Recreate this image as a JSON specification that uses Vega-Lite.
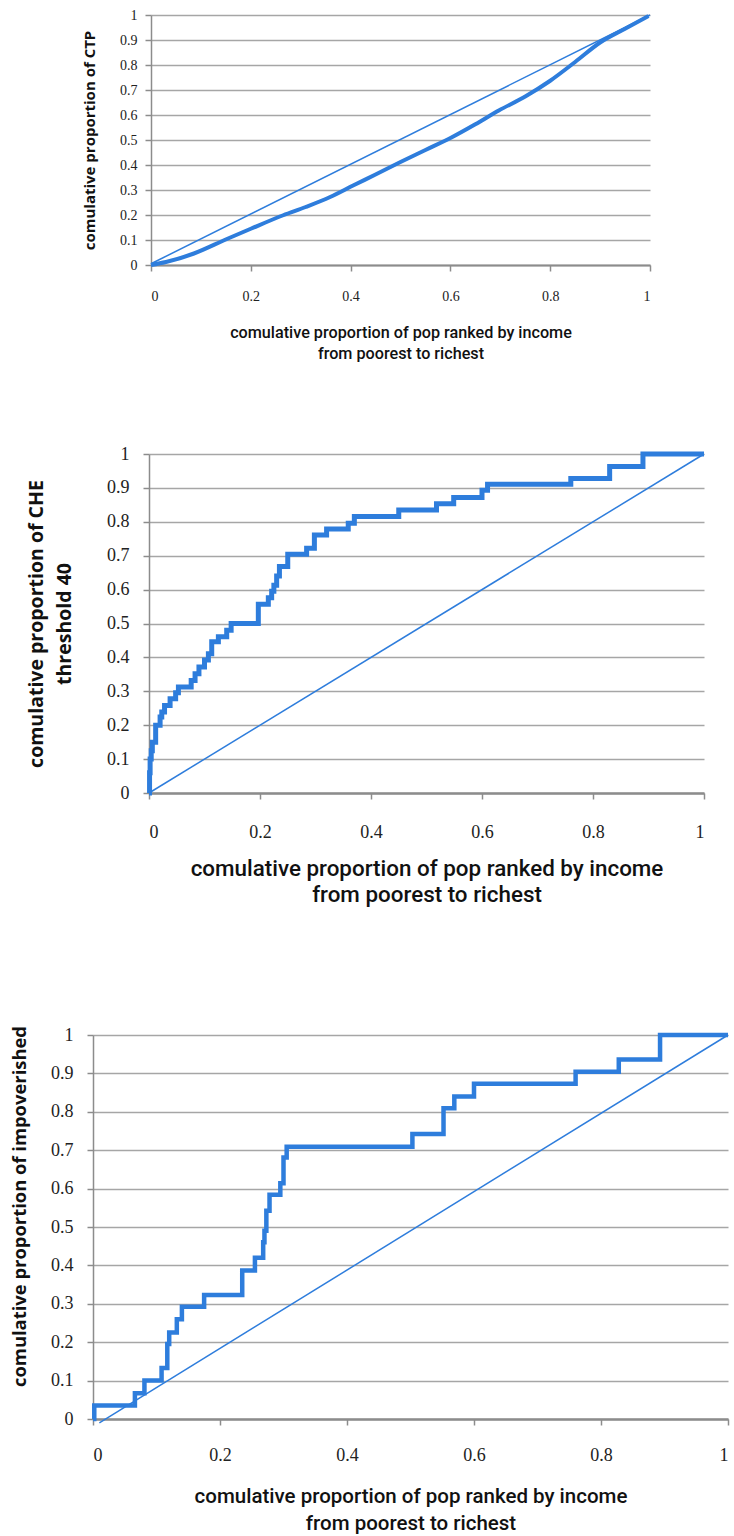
{
  "$schema": "https://vega.github.io/schema/vega-lite/v6.json",
  "background": "white",
  "padding": {"left": 10, "top": 8, "right": 0, "bottom": 0},
  "config": {
    "view": {"stroke": null},
    "axis": {
      "domainColor": "#8c8c8c",
      "tickColor": "#8c8c8c",
      "gridColor": "#a6a6a6",
      "labelColor": "#222222",
      "titleColor": "#111111",
      "labelFont": "Liberation Serif",
      "labelOverlap": false,
      "labelBound": false,
      "tickWidth": 1.5,
      "gridWidth": 1.5,
      "domainWidth": 1.5,
      "tickSize": 6,
      "format": "~g"
    }
  },
  "datasets": {
    "ctp": [
      {"x": 0, "y": 0}, {"x": 0.03, "y": 0.012}, {"x": 0.086, "y": 0.046}, {"x": 0.152, "y": 0.104},
      {"x": 0.2, "y": 0.145}, {"x": 0.265, "y": 0.199}, {"x": 0.31, "y": 0.232}, {"x": 0.359, "y": 0.272},
      {"x": 0.406, "y": 0.319}, {"x": 0.45, "y": 0.362}, {"x": 0.5, "y": 0.412}, {"x": 0.55, "y": 0.46},
      {"x": 0.603, "y": 0.511}, {"x": 0.65, "y": 0.563}, {"x": 0.697, "y": 0.618}, {"x": 0.75, "y": 0.674},
      {"x": 0.8, "y": 0.737}, {"x": 0.85, "y": 0.812}, {"x": 0.9, "y": 0.89}, {"x": 0.95, "y": 0.945},
      {"x": 0.997, "y": 0.996}
    ],
    "diag1": [{"x": 0, "y": 0.005}, {"x": 1, "y": 1}],
    "che": [
      {"x": 0, "y": 0}, {"x": 0.001, "y": 0.06}, {"x": 0.002, "y": 0.1}, {"x": 0.004, "y": 0.125},
      {"x": 0.006, "y": 0.15}, {"x": 0.012, "y": 0.2}, {"x": 0.02, "y": 0.224}, {"x": 0.023, "y": 0.239},
      {"x": 0.028, "y": 0.258}, {"x": 0.038, "y": 0.278}, {"x": 0.048, "y": 0.296}, {"x": 0.053, "y": 0.313},
      {"x": 0.076, "y": 0.332}, {"x": 0.083, "y": 0.352}, {"x": 0.09, "y": 0.372}, {"x": 0.1, "y": 0.392},
      {"x": 0.107, "y": 0.411}, {"x": 0.113, "y": 0.446}, {"x": 0.125, "y": 0.461}, {"x": 0.14, "y": 0.48},
      {"x": 0.148, "y": 0.5}, {"x": 0.197, "y": 0.557}, {"x": 0.215, "y": 0.576}, {"x": 0.221, "y": 0.595},
      {"x": 0.225, "y": 0.613}, {"x": 0.23, "y": 0.64}, {"x": 0.235, "y": 0.668}, {"x": 0.25, "y": 0.704},
      {"x": 0.284, "y": 0.722}, {"x": 0.298, "y": 0.761}, {"x": 0.32, "y": 0.779}, {"x": 0.359, "y": 0.796},
      {"x": 0.37, "y": 0.816}, {"x": 0.45, "y": 0.835}, {"x": 0.518, "y": 0.853}, {"x": 0.549, "y": 0.872},
      {"x": 0.6, "y": 0.893}, {"x": 0.61, "y": 0.911}, {"x": 0.76, "y": 0.928}, {"x": 0.83, "y": 0.963},
      {"x": 0.89, "y": 1.0}, {"x": 1.0, "y": 1.0}
    ],
    "diag2": [{"x": 0, "y": 0}, {"x": 1, "y": 1}],
    "imp": [
      {"x": 0, "y": 0}, {"x": 0.002, "y": 0.035}, {"x": 0.066, "y": 0.067}, {"x": 0.081, "y": 0.1},
      {"x": 0.108, "y": 0.133}, {"x": 0.117, "y": 0.195}, {"x": 0.12, "y": 0.225}, {"x": 0.132, "y": 0.26},
      {"x": 0.14, "y": 0.292}, {"x": 0.175, "y": 0.323}, {"x": 0.235, "y": 0.387}, {"x": 0.255, "y": 0.42},
      {"x": 0.268, "y": 0.46}, {"x": 0.27, "y": 0.49}, {"x": 0.273, "y": 0.542}, {"x": 0.278, "y": 0.584},
      {"x": 0.295, "y": 0.614}, {"x": 0.3, "y": 0.681}, {"x": 0.305, "y": 0.709}, {"x": 0.503, "y": 0.742},
      {"x": 0.552, "y": 0.809}, {"x": 0.569, "y": 0.84}, {"x": 0.6, "y": 0.873}, {"x": 0.76, "y": 0.904},
      {"x": 0.828, "y": 0.936}, {"x": 0.893, "y": 1.0}, {"x": 1.0, "y": 1.0}
    ],
    "diag3": [{"x": 0.01, "y": -0.01}, {"x": 1, "y": 1}]
  },
  "concat": [
    {
      "vconcat": [
        {
          "width": 557,
          "height": 250,
          "encoding": {
            "x": {"field": "x", "type": "quantitative", "scale": {"domain": [0, 1], "nice": false, "range": [58, 557]},
              "axis": {"values": [0, 0.2, 0.4, 0.6, 0.8, 1], "grid": false, "domainWidth": 2,
                "labelFontSize": 14, "labelPadding": 18,
                "title": ["comulative proportion of pop ranked by income", "from poorest to richest"],
                "titleFont": "Roboto", "titleFontSize": 16.2, "titleFontWeight": 500, "titleLineHeight": 21, "titlePadding": 21}},
            "y": {"field": "y", "type": "quantitative", "scale": {"domain": [0, 1], "nice": false},
              "axis": {"values": [0, 0.1, 0.2, 0.3, 0.4, 0.5, 0.6, 0.7, 0.8, 0.9, 1], "grid": true, "offset": -58,
                "labelFontSize": 14, "labelPadding": 8,
                "title": "comulative proportion of CTP",
                "titleFont": "Open Sans", "titleFontSize": 15, "titleFontWeight": "bold", "titlePadding": 22}}
          },
          "layer": [
            {
              "data": {"name": "diag1"},
              "mark": {"type": "line", "color": "#2e7ddc", "strokeWidth": 1.5}
            },
            {
              "data": {"name": "ctp"},
              "mark": {"type": "line", "color": "#2e7ddc", "strokeWidth": 4, "interpolate": "monotone"}
            }
          ]
        },
        {
          "width": 611,
          "height": 339,
          "encoding": {
            "x": {"field": "x", "type": "quantitative", "scale": {"domain": [0, 1], "nice": false, "range": [56, 611]},
              "axis": {"values": [0, 0.2, 0.4, 0.6, 0.8, 1], "grid": false, "domainWidth": 2.5,
                "labelFontSize": 18, "labelPadding": 24,
                "title": ["comulative proportion of pop ranked by income", "from poorest to richest"],
                "titleFont": "Roboto", "titleFontSize": 22.4, "titleFontWeight": 500, "titleLineHeight": 26, "titlePadding": 16}},
            "y": {"field": "y", "type": "quantitative", "scale": {"domain": [0, 1], "nice": false},
              "axis": {"values": [0, 0.1, 0.2, 0.3, 0.4, 0.5, 0.6, 0.7, 0.8, 0.9, 1], "grid": true, "offset": -56,
                "labelFontSize": 18, "labelPadding": 14,
                "title": ["comulative proportion of CHE", "threshold 40"],
                "titleFont": "Open Sans", "titleFontSize": 19.5, "titleFontWeight": "bold", "titleLineHeight": 28, "titlePadding": 32}}
          },
          "layer": [
            {
              "data": {"name": "diag2"},
              "mark": {"type": "line", "color": "#2e7ddc", "strokeWidth": 1.5}
            },
            {
              "data": {"name": "che"},
              "mark": {"type": "line", "color": "#2e7ddc", "strokeWidth": 5, "interpolate": "step-after"}
            }
          ]
        }
      ],
      "spacing": 82
    },
    {
      "width": 635,
      "height": 384,
      "encoding": {
        "x": {"field": "x", "type": "quantitative", "scale": {"domain": [0, 1], "nice": false},
          "axis": {"values": [0, 0.2, 0.4, 0.6, 0.8, 1], "grid": false, "domainWidth": 2.5,
            "labelFontSize": 18, "labelPadding": 21,
            "title": ["comulative proportion of pop ranked by income", "from poorest to richest"],
            "titleFont": "Roboto", "titleFontSize": 20.5, "titleFontWeight": 500, "titleLineHeight": 27, "titlePadding": 22}},
        "y": {"field": "y", "type": "quantitative", "scale": {"domain": [0, 1], "nice": false},
          "axis": {"values": [0, 0.1, 0.2, 0.3, 0.4, 0.5, 0.6, 0.7, 0.8, 0.9, 1], "grid": true,
            "labelFontSize": 18, "labelPadding": 14,
            "title": "comulative proportion of impoverished",
            "titleFont": "Open Sans", "titleFontSize": 18.4, "titleFontWeight": "bold", "titlePadding": 21, "titleY": 171}}
      },
      "layer": [
        {
          "data": {"name": "diag3"},
          "mark": {"type": "line", "color": "#2e7ddc", "strokeWidth": 1.5}
        },
        {
          "data": {"name": "imp"},
          "mark": {"type": "line", "color": "#2e7ddc", "strokeWidth": 4.5, "interpolate": "step-after"}
        }
      ]
    }
  ],
  "columns": 1,
  "spacing": 119
}
